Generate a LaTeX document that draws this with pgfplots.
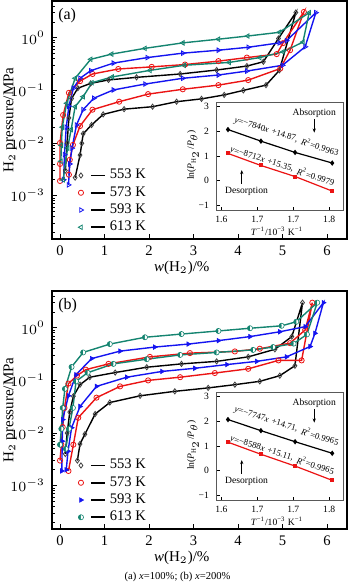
\documentclass[border=0pt]{standalone}
\usepackage{fontspec}
\setmainfont{Liberation Serif}
\usepackage{pgfplots}
\pgfplotsset{compat=1.18}
\usetikzlibrary{arrows.meta}
\definecolor{myred}{RGB}{235,20,20}
\definecolor{myblue}{RGB}{20,20,240}
\definecolor{myteal}{RGB}{20,132,112}
\newcommand\mainfs{\fontsize{7.3}{8}\selectfont}
\newcommand\labfs{\fontsize{7.5}{8}\selectfont}
\newcommand\insetfs{\fontsize{4.8}{5.4}\selectfont}
\newcommand\eqfs{\fontsize{4.4}{5}\selectfont}
\newcommand\capfs{\fontsize{5.3}{6}\selectfont}
\newcommand\sups[1]{\textsuperscript{#1}}
\tikzset{eqs/.style={font=\eqfs, rotate=-17, anchor=west, inner sep=0.2pt}}
\begin{document}
\begin{tikzpicture}
\path[use as bounding box] (0,0) rectangle (175pt,294pt);
% ---------------- panel (a)
\begin{axis}[at={(26pt,174.5pt)}, anchor=south west,
    scale only axis, width=147.5pt, height=119pt, ymode=log,
    xmin=-0.18, xmax=6.45, ymin=1.5e-4, ymax=5, xtick={0,1,2,3,4,5,6},
    tick align=inside, tick pos=left, major tick length=2.5pt, minor tick length=1.3pt,
    tick label style={font=\mainfs}, label style={font=\labfs},
    /pgf/number format/assume math mode=true,
    axis line style={line width=0.6pt}, every tick/.style={black, line width=0.4pt},
    xlabel={\textit{w}(H$_2$)/\%}, ylabel={H$_2$ pressure/MPa},
    xlabel style={at={(axis description cs:0.44,-0.122)}, anchor=center},
    ylabel style={at={(axis description cs:-0.142,0.5)}, anchor=center},
    legend style={draw=none, fill=none, at={(rel axis cs:0.088,0.312)}, anchor=north west,
      font=\mainfs, row sep=-1.7pt, inner sep=0pt},
    legend cell align=left,
    legend image code/.code={%
      \draw[#1, only marks] plot coordinates {(0pt,0pt)};
      \draw[black, line width=0.8pt, solid] (5pt,0pt) -- (12pt,0pt);
    },
    every axis plot/.append style={line width=0.7pt, mark size=1.3pt}]
\addplot[black, mark=diamond, mark options={solid, fill=white, draw=black!75, line width=0.4pt}] coordinates {
(0.12,0.003) (0.16,0.01) (0.2,0.03) (0.26,0.07) (0.4,0.11) (0.69,0.136) (1.09,0.158) (1.72,0.177) (2.70,0.205) (3.52,0.244) (4.20,0.29) (4.57,0.35) (4.91,0.97) (5.30,3.02)
(4.93,0.24) (4.63,0.126) (4.12,0.10) (3.69,0.082) (3.18,0.069) (2.62,0.061) (2.08,0.049) (1.44,0.044) (0.97,0.035) (0.71,0.022) (0.52,0.015) (0.49,0.0099) (0.45,0.0059) (0.34,0.0022)};
\addlegendentry{553 K}
\addplot[myred, mark=o, mark options={solid, fill=white, line width=0.4pt}] coordinates {
(0.0,0.0019) (0.0,0.004) (0.0,0.01) (0.07,0.034) (0.2,0.09) (0.45,0.15) (0.73,0.205) (1.31,0.255) (2.06,0.28) (2.81,0.31) (3.56,0.36) (4.20,0.42) (4.87,0.49) (5.01,0.79) (5.48,3.1)
(5.17,0.58) (4.95,0.26) (4.23,0.157) (3.56,0.126) (2.76,0.105) (1.98,0.085) (1.33,0.061) (0.73,0.043) (0.45,0.021) (0.29,0.0092) (0.22,0.0048) (0.2,0.0025)};
\addlegendentry{573 K}
\addplot[myblue, mark=triangle, mark options={solid, fill=white, rotate=-90, line width=0.4pt}] coordinates {
(0.08,0.002) (0.1,0.006) (0.14,0.02) (0.2,0.05) (0.3,0.11) (0.45,0.17) (0.69,0.237) (1.20,0.33) (1.96,0.42) (2.76,0.51) (3.56,0.58) (4.23,0.66) (4.93,0.80) (5.09,0.88) (5.75,3.0)
(5.51,0.675) (5.0,0.30) (4.20,0.233) (3.56,0.196) (2.76,0.17) (1.91,0.132) (1.20,0.102) (0.76,0.071) (0.52,0.043) (0.37,0.022) (0.27,0.008) (0.22,0.004) (0.19,0.0016)};
\addlegendentry{593 K}
\addplot[myteal, mark=triangle, mark options={solid, fill=white, rotate=90, line width=0.4pt}] coordinates {
(0.02,0.0045) (0.03,0.009) (0.05,0.02) (0.15,0.057) (0.34,0.17) (0.69,0.39) (1.16,0.49) (1.91,0.63) (2.76,0.80) (3.56,0.94) (4.22,1.08) (4.93,1.27) (5.60,3.0)
(5.46,0.83) (5.01,0.54) (4.49,0.42) (3.80,0.34) (2.79,0.30) (2.02,0.24) (1.17,0.18) (0.72,0.14) (0.52,0.076) (0.34,0.049) (0.25,0.018) (0.17,0.008) (0.07,0.002)};
\addlegendentry{613 K}
\node[anchor=north west, font=\fontsize{8}{9}\selectfont, inner sep=0pt] at (rel axis cs:0.02,0.97) {(a)};
\end{axis}
\begin{axis}[at={(108pt,188.5pt)}, anchor=south west,
    scale only axis, width=63.5pt, height=54pt,
    xmin=1.591, xmax=1.803, ymin=-1.24, ymax=3.15,
    xtick={1.6,1.66,1.72,1.78}, xticklabels={1.6,1.7,1.7,1.8},
    ytick={-1,0,1,2,3}, yticklabels={−1,0,1,2,3},
    tick align=inside, tick pos=left, major tick length=1.8pt,
    tick label style={font=\insetfs}, label style={font=\insetfs},
    xticklabel style={yshift=0.8pt},
    every tick/.style={black, line width=0.35pt},
    axis line style={black!65, line width=0.5pt},
    axis background/.style={fill=white},
    xlabel={\textit{T}\sups{−1}/10\sups{−3} K\sups{−1}},
    ylabel={ln(\textit{P}$_{\mathrm{H}_2}$/\textit{P}$_\theta$)},
    xlabel style={at={(axis description cs:0.48,-0.185)}, anchor=center},
    ylabel style={at={(axis description cs:-0.181,0.52)}, anchor=center},
    every axis plot/.append style={line width=0.6pt, mark size=0.9pt}]
\addplot[black, mark=diamond*] coordinates {(1.611,2.07) (1.666,1.6) (1.723,1.14) (1.785,0.71)};
\addplot[myred, mark=square*, mark size=0.7pt] coordinates {(1.611,1.1) (1.666,0.61) (1.723,0.16) (1.785,-0.43)};
\node[eqs] (ab1) at (axis cs:1.621,2.45) {\textit{y}=−7840\textit{x}};
\node[eqs, xshift=0.9pt] (ab2) at (ab1.east) {+14.87,};
\node[eqs, xshift=1.4pt] at (ab2.east) {\textit{R}\sups{2}=0.9963};
\node[eqs] (ar1) at (axis cs:1.614,1.25) {\textit{y}=−8712\textit{x}};
\node[eqs, xshift=0.9pt] (ar2) at (ar1.east) {+15.35,};
\node[eqs, xshift=1.4pt] at (ar2.east) {\textit{R}\sups{2}=0.9979};
\node[font=\insetfs] at (axis cs:1.755,2.73) {Absorption};
\draw[-{Stealth[length=2pt,width=1.6pt]}, line width=0.35pt] (axis cs:1.755,2.5) -- (axis cs:1.755,1.95);
\node[font=\insetfs] at (axis cs:1.642,-0.45) {Desorption};
\draw[-{Stealth[length=2pt,width=1.6pt]}, line width=0.35pt] (axis cs:1.634,-0.14) -- (axis cs:1.634,0.42);
\end{axis}
% ---------------- panel (b)
\begin{axis}[at={(26pt,29.5pt)}, anchor=south west,
    scale only axis, width=147.5pt, height=119pt, ymode=log,
    xmin=-0.18, xmax=6.45, ymin=1.5e-4, ymax=5, xtick={0,1,2,3,4,5,6},
    tick align=inside, tick pos=left, major tick length=2.5pt, minor tick length=1.3pt,
    tick label style={font=\mainfs}, label style={font=\labfs},
    /pgf/number format/assume math mode=true,
    axis line style={line width=0.6pt}, every tick/.style={black, line width=0.4pt},
    xlabel={\textit{w}(H$_2$)/\%}, ylabel={H$_2$ pressure/MPa},
    xlabel style={at={(axis description cs:0.44,-0.122)}, anchor=center},
    ylabel style={at={(axis description cs:-0.142,0.5)}, anchor=center},
    legend style={draw=none, fill=none, at={(rel axis cs:0.088,0.312)}, anchor=north west,
      font=\mainfs, row sep=-1.7pt, inner sep=0pt},
    legend cell align=left,
    legend image code/.code={%
      \draw[#1, only marks] plot coordinates {(0pt,0pt)};
      \draw[black, line width=0.8pt, solid] (5pt,0pt) -- (12pt,0pt);
    },
    every axis plot/.append style={line width=0.7pt, mark size=1.3pt}]
\addplot[black, mark=diamond, mark options={solid, fill=white, draw=black!75, line width=0.4pt}] coordinates {
(0.12,0.004) (0.16,0.01) (0.22,0.025) (0.3,0.05) (0.45,0.083) (0.67,0.115) (1.24,0.141) (1.95,0.178) (2.73,0.206) (3.52,0.23) (4.23,0.28) (4.83,0.39) (5.21,0.68) (5.45,3.0)
(5.28,0.19) (4.94,0.123) (4.49,0.096) (3.93,0.083) (3.33,0.072) (2.58,0.062) (1.80,0.051) (1.12,0.038) (0.79,0.023) (0.56,0.0095) (0.45,0.0062) (0.39,0.003)};
\addlegendentry{553 K}
\addplot[myred, mark=o, mark options={solid, fill=white, line width=0.4pt}] coordinates {
(0.0,0.003) (0.03,0.006) (0.06,0.013) (0.1,0.03) (0.19,0.087) (0.38,0.123) (0.58,0.16) (1.09,0.206) (2.02,0.28) (2.92,0.33) (3.93,0.355) (4.49,0.40) (5.17,0.51) (5.51,0.91) (5.67,3.0)
(5.43,0.24) (4.91,0.24) (4.23,0.166) (3.48,0.138) (2.70,0.115) (1.98,0.10) (1.35,0.077) (0.82,0.047) (0.41,0.0195) (0.3,0.006) (0.19,0.0019)};
\addlegendentry{573 K}
\addplot[myblue, mark=triangle*, mark options={solid, fill=myblue, rotate=-90, line width=0.3pt}] coordinates {
(0.04,0.0019) (0.05,0.007) (0.06,0.018) (0.19,0.051) (0.36,0.128) (0.71,0.26) (1.35,0.36) (2.13,0.43) (2.88,0.49) (3.56,0.57) (4.27,0.68) (4.94,0.84) (5.51,1.05) (5.92,3.0)
(5.73,0.785) (5.62,0.44) (5.09,0.28) (4.42,0.23) (3.75,0.20) (3.03,0.17) (2.29,0.148) (1.50,0.115) (0.82,0.077) (0.45,0.032) (0.26,0.0126) (0.18,0.0045) (0.14,0.002)};
\addlegendentry{593 K}
\addplot[myteal, mark=halfcircle*, mark options={solid, fill=myteal, rotate=90, line width=0.3pt}] coordinates {
(0.0,0.006) (0.03,0.012) (0.06,0.03) (0.11,0.069) (0.26,0.18) (0.52,0.34) (1.12,0.49) (1.91,0.66) (2.73,0.76) (3.56,0.87) (4.27,0.98) (4.98,1.09) (5.31,1.3) (5.78,3.0)
(5.55,0.75) (5.25,0.5) (4.79,0.43) (4.34,0.38) (3.52,0.34) (2.70,0.305) (1.95,0.253) (1.20,0.206) (0.62,0.14) (0.36,0.096) (0.29,0.03) (0.2,0.012) (0.13,0.005)};
\addlegendentry{613 K}
\node[anchor=north west, font=\fontsize{8}{9}\selectfont, inner sep=0pt] at (rel axis cs:0.02,0.97) {(b)};
\end{axis}
\begin{axis}[at={(108pt,43.5pt)}, anchor=south west,
    scale only axis, width=63.5pt, height=54pt,
    xmin=1.591, xmax=1.803, ymin=-1.24, ymax=3.15,
    xtick={1.6,1.66,1.72,1.78}, xticklabels={1.6,1.7,1.7,1.8},
    ytick={-1,0,1,2,3}, yticklabels={−1,0,1,2,3},
    tick align=inside, tick pos=left, major tick length=1.8pt,
    tick label style={font=\insetfs}, label style={font=\insetfs},
    xticklabel style={yshift=0.8pt},
    every tick/.style={black, line width=0.35pt},
    axis line style={black!65, line width=0.5pt},
    axis background/.style={fill=white},
    xlabel={\textit{T}\sups{−1}/10\sups{−3} K\sups{−1}},
    ylabel={ln(\textit{P}$_{\mathrm{H}_2}$/\textit{P}$_\theta$)},
    xlabel style={at={(axis description cs:0.48,-0.185)}, anchor=center},
    ylabel style={at={(axis description cs:-0.181,0.52)}, anchor=center},
    every axis plot/.append style={line width=0.6pt, mark size=0.9pt}]
\addplot[black, mark=diamond*] coordinates {(1.611,2.07) (1.666,1.62) (1.723,1.17) (1.785,0.70)};
\addplot[myred, mark=square*, mark size=0.7pt] coordinates {(1.611,1.15) (1.666,0.66) (1.723,0.18) (1.785,-0.40)};
\node[eqs] (bb1) at (axis cs:1.621,2.47) {\textit{y}=−7747\textit{x}};
\node[eqs, xshift=0.9pt] (bb2) at (bb1.east) {+14.71,};
\node[eqs, xshift=1.4pt] at (bb2.east) {\textit{R}\sups{2}=0.9965};
\node[eqs] (br1) at (axis cs:1.614,1.29) {\textit{y}=−8588\textit{x}};
\node[eqs, xshift=0.9pt] (br2) at (br1.east) {+15.11,};
\node[eqs, xshift=1.4pt] at (br2.east) {\textit{R}\sups{2}=0.9965};
\node[font=\insetfs] at (axis cs:1.755,2.73) {Absorption};
\draw[-{Stealth[length=2pt,width=1.6pt]}, line width=0.35pt] (axis cs:1.755,2.5) -- (axis cs:1.755,1.95);
\node[font=\insetfs] at (axis cs:1.642,-0.45) {Desorption};
\draw[-{Stealth[length=2pt,width=1.6pt]}, line width=0.35pt] (axis cs:1.634,-0.14) -- (axis cs:1.634,0.42);
\end{axis}
\node[font=\capfs] at (88.8pt,5.7pt) {(a) \textit{x}=100\%; (b) \textit{x}=200\%};
\end{tikzpicture}
\end{document}
